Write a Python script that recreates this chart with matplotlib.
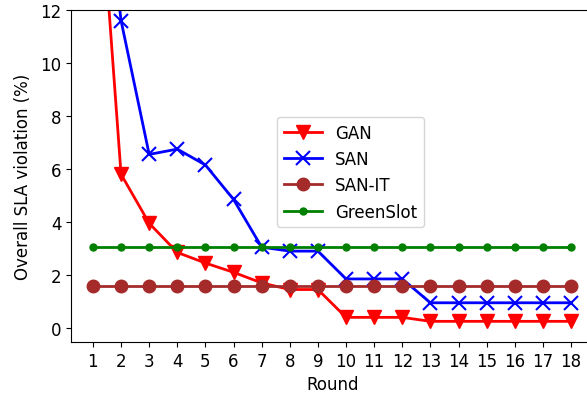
import numpy as np
import matplotlib.pyplot as plt

rounds = np.arange(1, 19)
gan = [20.3, 5.8, 3.95, 2.85, 2.45, 2.1, 1.7, 1.45, 1.45, 0.4, 0.4, 0.4,
       0.25, 0.25, 0.25, 0.25, 0.25, 0.25]
san = [21.0, 11.6, 6.55, 6.75, 6.15, 4.85, 3.05, 2.9, 2.9, 1.85, 1.85, 1.85,
       0.95, 0.95, 0.95, 0.95, 0.95, 0.95]
san_it = [1.6] * 18
greenslot = [3.05] * 18

fig = plt.figure(figsize=(5.87, 4.02), dpi=100)
ax = fig.add_axes([71 / 587, 1 - 343 / 402, 522.5 / 587, 332 / 402])

ax.plot(rounds, gan, color='red', marker='v', markersize=10, linewidth=2, label='GAN')
ax.plot(rounds, san, color='blue', marker='x', markersize=10, markeredgewidth=1.5,
        linewidth=2, label='SAN')
ax.plot(rounds, san_it, color='brown', marker='o', markersize=9, linewidth=2, label='SAN-IT')
ax.plot(rounds, greenslot, color='green', marker='o', markersize=5, linewidth=2,
        label='GreenSlot')

ax.set_xlim(0.22, 18.8)
ax.set_ylim(-0.53, 12)
ax.set_xticks(rounds)
ax.set_yticks([0, 2, 4, 6, 8, 10, 12])
ax.tick_params(labelsize=12)
ax.set_xlabel('Round', fontsize=12)
ax.set_ylabel('Overall SLA violation (%)', fontsize=12, labelpad=6)
ax.legend(loc='upper left', bbox_to_anchor=(0.394, 0.678), borderaxespad=0, fontsize=12,
          handlelength=2.3)

fig.savefig('out.png', dpi=100)
